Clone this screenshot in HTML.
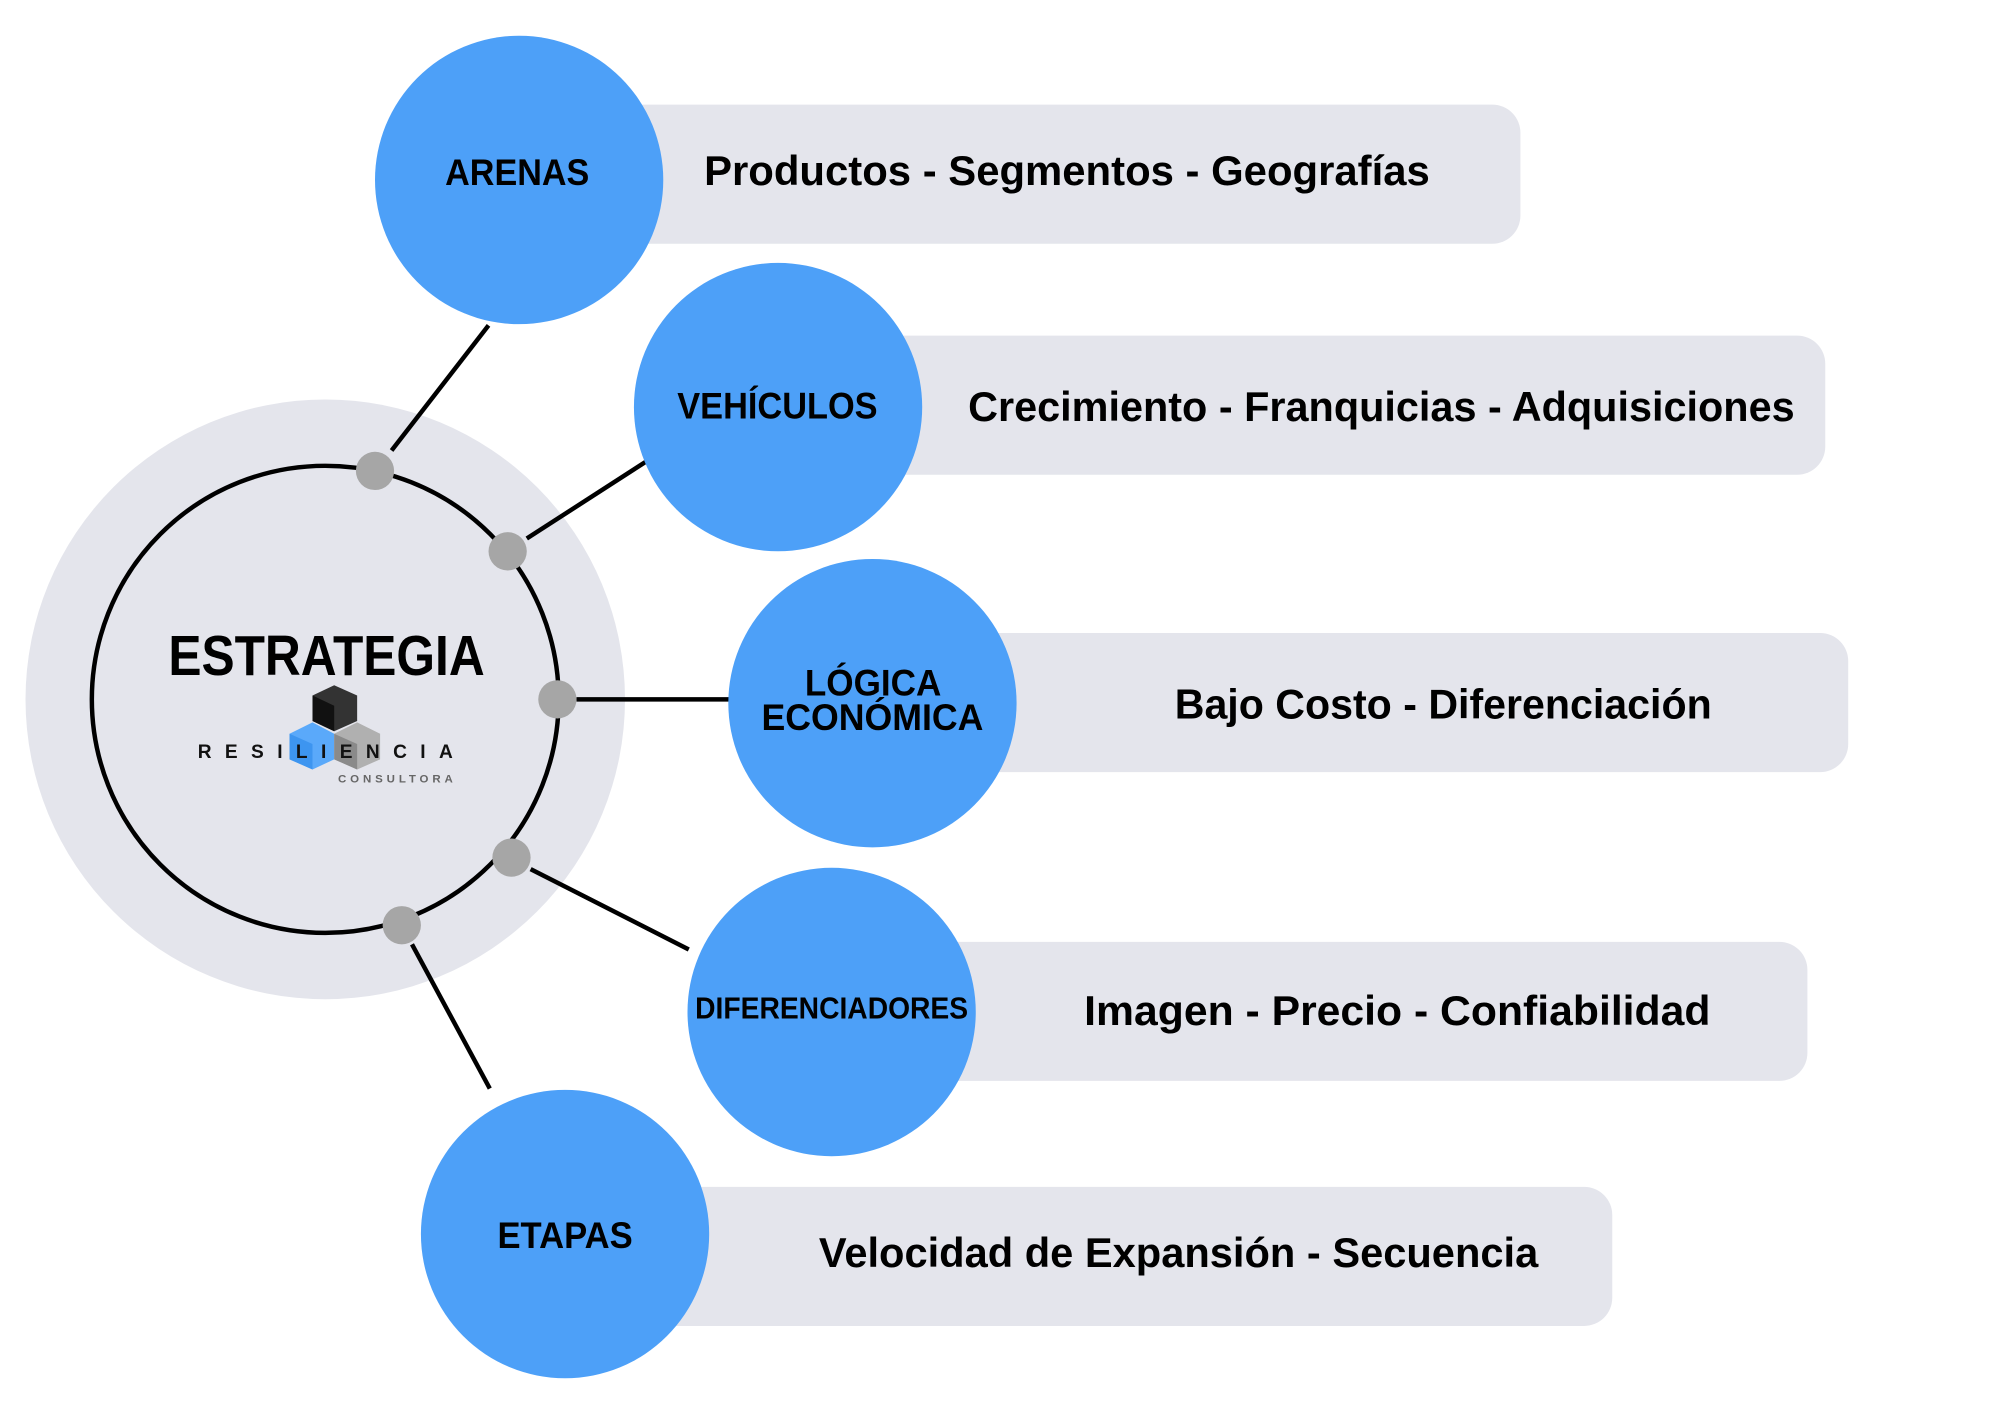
<!DOCTYPE html>
<html><head><meta charset="utf-8"><style>html,body{margin:0;padding:0;background:#fff}svg{display:block}</style></head><body>
<svg width="2000" height="1414" viewBox="0 0 1568 1108" preserveAspectRatio="none" xmlns="http://www.w3.org/2000/svg" font-family="Liberation Sans, sans-serif" font-weight="bold">
<circle cx="255" cy="548" r="235" fill="#E4E5EC"/>
<circle cx="255" cy="548" r="183" fill="none" stroke="#000" stroke-width="3.5"/>
<g stroke="#000" stroke-width="3.5">
<line x1="307" y1="353" x2="383" y2="255"/>
<line x1="413" y1="422" x2="506" y2="362"/>
<line x1="452" y1="548" x2="572" y2="548"/>
<line x1="416" y1="681" x2="540" y2="744"/>
<line x1="323" y1="740" x2="384" y2="853"/>
</g>
<g fill="#A6A6A6">
<circle cx="294" cy="369" r="15"/><circle cx="398" cy="432" r="15"/><circle cx="437" cy="548" r="15"/><circle cx="401" cy="672" r="15"/><circle cx="315" cy="725" r="15"/>
</g>
<g fill="#E4E5EC">
<rect x="460" y="82" width="732" height="109" rx="22"/>
<rect x="660" y="263" width="771" height="109" rx="22"/>
<rect x="740" y="496" width="709" height="109" rx="22"/>
<rect x="700" y="738" width="717" height="109" rx="22"/>
<rect x="500" y="930" width="764" height="109" rx="22"/>
</g>
<g fill="#4DA0F8">
<circle cx="407" cy="141" r="113"/><circle cx="610" cy="319" r="113"/><circle cx="684" cy="551" r="113"/><circle cx="652" cy="793" r="113"/><circle cx="443" cy="967" r="113"/>
</g>
<g fill="#000" font-size="29">
<text x="349" y="145" textLength="113" lengthAdjust="spacingAndGlyphs">ARENAS</text>
<text x="531" y="328" textLength="157" lengthAdjust="spacingAndGlyphs">VEHÍCULOS</text>
<text x="631" y="545" textLength="107" lengthAdjust="spacingAndGlyphs">LÓGICA</text>
<text x="597" y="572" textLength="174" lengthAdjust="spacingAndGlyphs">ECONÓMICA</text>
<text x="545" y="798" font-size="24" textLength="214" lengthAdjust="spacingAndGlyphs">DIFERENCIADORES</text>
<text x="390" y="978" textLength="106" lengthAdjust="spacingAndGlyphs">ETAPAS</text>
</g>
<g fill="#000" font-size="33">
<text x="552" y="145" textLength="569" lengthAdjust="spacingAndGlyphs">Productos - Segmentos - Geografías</text>
<text x="759" y="330" textLength="648" lengthAdjust="spacingAndGlyphs">Crecimiento - Franquicias - Adquisiciones</text>
<text x="921" y="563" textLength="421" lengthAdjust="spacingAndGlyphs">Bajo Costo - Diferenciación</text>
<text x="850" y="803" textLength="491" lengthAdjust="spacingAndGlyphs">Imagen - Precio - Confiabilidad</text>
<text x="642" y="993" textLength="564" lengthAdjust="spacingAndGlyphs">Velocidad de Expansión - Secuencia</text>
</g>
<text x="132" y="529" font-size="44" textLength="248" lengthAdjust="spacingAndGlyphs">ESTRATEGIA</text>
<polygon points="245,545 262,537 280,545 280,565 262,573 245,565" fill="#333"/>
<polygon points="245,545 262,553 262,573 245,565" fill="#111"/>
<polygon points="227,575 245,566 262,575 262,595 245,603 227,595" fill="#5AA9FA"/>
<polygon points="227,575 245,583 245,603 227,595" fill="#3D95F0"/>
<polygon points="262,575 280,566 298,575 298,595 280,603 262,595" fill="#B0B0B0"/>
<polygon points="262,575 280,583 280,603 262,595" fill="#8A8A8A"/>
<text x="155" y="594" font-size="15" font-weight="bold" textLength="200" fill="#111">RESILIENCIA</text>
<text x="265" y="613" font-size="9" textLength="90" fill="#666">CONSULTORA</text>
</svg>
</body></html>
